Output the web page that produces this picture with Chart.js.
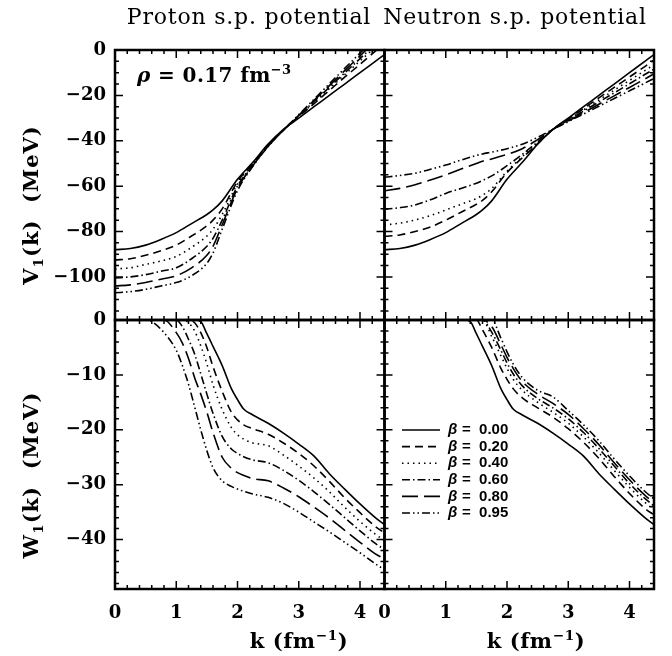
<!DOCTYPE html>
<html>
<head>
<meta charset="utf-8">
<script src="https://cdn.jsdelivr.net/npm/chart.js@4.4.1/dist/chart.umd.min.js"></script>
<style>
    body { margin: 0; background: #fff; }
    #wrap { position: relative; width: 672px; height: 656px; overflow: hidden; font-family: "DejaVu Serif", serif; color: #000; }
    #wrap canvas { position: absolute; left: 0; top: 0; }
    .lbl { position: absolute; white-space: nowrap; line-height: 1; }
    .lbl sub, .lbl sup { font-size: 65%; line-height: 0; }
</style>
</head>
<body>
<div id="wrap">
    <canvas id="pV" width="672" height="656"></canvas>
    <canvas id="nV" width="672" height="656"></canvas>
    <canvas id="pW" width="672" height="656"></canvas>
    <canvas id="nW" width="672" height="656"></canvas>

    <div class="lbl" style="left:249px;top:6px;font-size:22px;letter-spacing:0.8px;transform:translateX(-50%);">Proton s.p. potential</div>
    <div class="lbl" style="left:515px;top:6px;font-size:22px;letter-spacing:0.8px;transform:translateX(-50%);">Neutron s.p. potential</div>
    <div class="lbl" style="left:137px;top:65px;font-size:20px;font-weight:bold;letter-spacing:0.4px;"><i>&rho;</i> = 0.17 fm<sup>&minus;3</sup></div>
    <div class="lbl" style="left:30px;top:205px;font-size:21px;font-weight:bold;letter-spacing:1px;transform:translate(-50%,-50%) rotate(-90deg);">V<sub>1</sub>(k)&nbsp;&nbsp;(MeV)</div>
    <div class="lbl" style="left:30px;top:475px;font-size:21px;font-weight:bold;letter-spacing:1px;transform:translate(-50%,-50%) rotate(-90deg);">W<sub>1</sub>(k)&nbsp;&nbsp;(MeV)</div>
    <div class="lbl" style="left:299px;top:640px;font-size:21px;font-weight:bold;letter-spacing:0.6px;transform:translate(-50%,-50%);">k (fm<sup>&minus;1</sup>)</div>
    <div class="lbl" style="left:536px;top:640px;font-size:21px;font-weight:bold;letter-spacing:0.6px;transform:translate(-50%,-50%);">k (fm<sup>&minus;1</sup>)</div>
</div>
<script>
// asymmetry parameter of each curve
const betas = ["0.00", "0.20", "0.40", "0.60", "0.80", "0.95"];

// momentum grid for the real part V1(k)
const kV = [0, 0.25, 0.5, 0.75, 1, 1.25, 1.5, 1.6, 1.75, 2, 2.25, 2.5, 2.75, 3, 3.25, 3.5, 3.75, 4, 4.25, 4.4];

// proton V1(k), MeV
const protonV00 = [-88, -87.5, -86, -83.5, -80.5, -76.5, -72.5, -70.5, -66.5, -57, -49.5, -41.5, -35, -30, -25, -20, -15, -10, -5, -2];
const protonV20 = [-92.5, -92, -90.5, -88.5, -86, -82, -77.5, -75, -70, -58, -50, -41.8, -35.3, -29.4, -23.6, -17.8, -12, -6.3, -0.5, 3];
const protonV40 = [-96.5, -96, -94.5, -93, -91, -87, -82, -79, -72.5, -59, -50.3, -42, -35.3, -29.1, -23.1, -17, -10.9, -4.8, 1.2, 4.9];
const protonV60 = [-100.5, -100, -99, -97.5, -96, -92, -86.5, -83, -75, -60, -50.6, -42.2, -35.3, -29, -22.7, -16.4, -10.1, -3.8, 2.5, 6.3];
const protonV80 = [-104, -103.5, -102.5, -101, -99.5, -96, -90.5, -86.5, -77, -61, -51, -42.4, -35.3, -28.8, -22.2, -15.7, -9.1, -2.6, 4, 7.9];
const protonV95 = [-107, -106.5, -105.5, -104, -102.5, -99.5, -94, -89.5, -79, -62, -51.3, -42.6, -35.3, -28.5, -21.7, -14.9, -8.1, -1.4, 5.4, 9.5];

// neutron V1(k), MeV
const neutronV00 = [-88, -87.5, -86, -83.5, -80.5, -76.5, -72.5, -70.5, -66.5, -57, -49.5, -41.5, -35, -30, -25, -20, -15, -10, -5, -2];
const neutronV20 = [-82.2, -81.5, -80, -78, -75, -71.5, -68, -66.3, -62.5, -54, -47.5, -41.3, -35, -30.4, -25.8, -21.1, -16.5, -11.9, -7.3, -4.5];
const neutronV40 = [-77.1, -76.3, -74.9, -73, -70.5, -68, -65.5, -64, -61, -53.5, -47, -41, -35, -30.7, -26.4, -22, -17.7, -13.4, -9.1, -6.5];
const neutronV60 = [-70.2, -69.5, -68.3, -66, -63.2, -61, -58.7, -57.5, -55.5, -51, -46, -40.5, -35, -31, -26.9, -22.9, -18.9, -14.9, -10.8, -8.5];
const neutronV80 = [-62, -61, -59.4, -57.3, -55, -52.5, -50, -49, -48, -46, -43.5, -39.5, -35, -31.3, -27.6, -23.9, -20.2, -16.5, -12.8, -10.5];
const neutronV95 = [-56.1, -55.3, -54.3, -52.6, -50.7, -48.5, -46.5, -45.8, -45, -43.5, -41.5, -38.5, -35, -31.6, -28.2, -24.8, -21.4, -18, -14.6, -12.5];

// momentum grid for the imaginary part W1(k)
const kW = [0, 0.5, 0.6, 0.8, 1, 1.1, 1.2, 1.3, 1.4, 1.5, 1.6, 1.75, 1.9, 2, 2.1, 2.25, 2.5, 2.75, 3, 3.25, 3.5, 3.75, 4, 4.25, 4.4];

// proton W1(k), MeV
const protonW00 = [0, 0, 0, 0, 0, 0, 0, 0, -0.3, -2.5, -4.8, -8.3, -12.5, -14.5, -16.2, -17.3, -18.8, -20.6, -22.6, -24.8, -28, -30.8, -33.5, -36, -37.3];
const protonW20 = [0, 0, 0, 0, 0, 0, 0, -0.5, -2.3, -5, -8.5, -13, -16.8, -18.2, -19.1, -19.8, -20.8, -22.4, -24.3, -26.6, -29.4, -32.4, -35.1, -37.6, -38.8];
const protonW40 = [0, 0, 0, 0, 0, 0, -0.5, -2, -4.7, -8, -11.8, -16.3, -19.6, -20.9, -21.7, -22.4, -22.9, -24.6, -26.6, -28.8, -31.3, -34.1, -36.7, -39, -40.2];
const protonW60 = [0, 0, 0, 0, 0, -1.2, -3.5, -6.2, -9.8, -13.5, -17, -21.2, -23.5, -24.3, -24.9, -25.5, -26, -27.4, -29.2, -31.3, -33.6, -36, -38.4, -40.7, -41.8];
const protonW80 = [0, 0, 0, 0, -2.3, -4.2, -7, -10.5, -13.5, -16.8, -20.5, -25, -27, -27.8, -28.3, -28.9, -29.3, -30.6, -32.2, -34.1, -36.1, -38.3, -40.5, -42.6, -43.5];
const protonW95 = [0, 0, -0.3, -2.3, -5.5, -8.3, -11.7, -15.8, -20, -23.8, -26.9, -29.3, -30.3, -30.8, -31.2, -31.7, -32.3, -33.4, -35, -36.8, -38.6, -40.5, -42.4, -44.4, -45.5];

// neutron W1(k), MeV
const neutronW00 = [0, 0, 0, 0, 0, 0, 0, 0, -0.3, -2.5, -4.8, -8.3, -12.5, -14.5, -16.2, -17.3, -18.8, -20.6, -22.6, -24.8, -28, -30.8, -33.5, -36, -37.3];
const neutronW20 = [0, 0, 0, 0, 0, 0, 0, 0, 0, 0, -1.8, -5, -8.8, -10.8, -12.5, -14.2, -16, -17.7, -19.8, -22.3, -25.2, -28.5, -31.6, -34.3, -35.5];
const neutronW40 = [0, 0, 0, 0, 0, 0, 0, 0, 0, 0, 0, -3, -6.5, -8.8, -10.8, -12.8, -15, -16.8, -18.8, -21.3, -24.2, -27.4, -30.5, -33.2, -34.6];
const neutronW60 = [0, 0, 0, 0, 0, 0, 0, 0, 0, 0, 0, -2.2, -5.5, -7.8, -9.8, -12, -14.3, -16, -18, -20.5, -23.4, -26.6, -29.8, -32.5, -33.9];
const neutronW80 = [0, 0, 0, 0, 0, 0, 0, 0, 0, 0, 0, -1.2, -4.5, -6.8, -8.8, -11.2, -13.5, -15.2, -17.2, -19.8, -22.7, -26, -29.1, -31.9, -33.3];
const neutronW95 = [0, 0, 0, 0, 0, 0, 0, 0, 0, 0, 0, 0, -3.3, -5.8, -8, -10.5, -12.8, -14, -16.5, -19.1, -22, -25.3, -28.4, -31.2, -32.6];

// line patterns, one per beta
const dashes = [[], [8, 5], [1.5, 4], [8, 3, 1.5, 3], [16, 6], [8, 3, 1.5, 3, 1.5, 3]];

function minusSign(v) {
    return v < 0 ? "\u2212" + Math.abs(v) : String(v);
}

function makeDatasets(ks, list) {
    return list.map(function (ys, i) {
        return {
            label: "\u03b2 = " + betas[i],
            data: ks.map(function (k, j) { return { x: k, y: ys[j] }; }),
            borderColor: "#000",
            borderWidth: 1.6,
            borderDash: dashes[i],
            pointRadius: 0,
            fill: false,
            cubicInterpolationMode: "monotone",
        };
    });
}

// box and inward tick marks on all four sides
const framePlugin = {
    id: "frame",
    afterDatasetsDraw(chart, args, opts) {
        const ctx = chart.ctx;
        const a = chart.chartArea;
        const x = chart.scales.x;
        const y = chart.scales.y;
        ctx.save();
        ctx.strokeStyle = "#000";
        ctx.lineWidth = 1.5;
        ctx.beginPath();
        for (let i = 0; i * 0.2 <= x.max + 1e-9; i++) {
            const px = x.getPixelForValue(i * 0.2);
            const len = i % 5 === 0 ? 8 : 4;
            ctx.moveTo(px, a.bottom);
            ctx.lineTo(px, a.bottom - len);
            ctx.moveTo(px, a.top);
            ctx.lineTo(px, a.top + len);
        }
        for (let i = 0; -i * opts.minor >= y.min - 1e-9; i++) {
            const py = y.getPixelForValue(-i * opts.minor);
            const len = i % opts.per === 0 ? 8 : 4;
            ctx.moveTo(a.left, py);
            ctx.lineTo(a.left + len, py);
            ctx.moveTo(a.right, py);
            ctx.lineTo(a.right - len, py);
        }
        ctx.stroke();
        ctx.lineWidth = 2.5;
        ctx.strokeRect(a.left, a.top, a.right - a.left, a.bottom - a.top);
        ctx.restore();
    },
};

// legend with line samples inside the lower right panel
const betaLegend = {
    id: "betaLegend",
    afterDraw(chart, args, opts) {
        if (!opts.show) return;
        const ctx = chart.ctx;
        ctx.save();
        ctx.strokeStyle = "#000";
        ctx.fillStyle = "#000";
        ctx.textBaseline = "middle";
        chart.data.datasets.forEach(function (ds, i) {
            const yy = opts.top + i * opts.step;
            ctx.lineWidth = 1.6;
            ctx.setLineDash(ds.borderDash);
            ctx.beginPath();
            ctx.moveTo(opts.left, yy);
            ctx.lineTo(opts.left + 38, yy);
            ctx.stroke();
            ctx.setLineDash([]);
            ctx.font = "italic bold 15px 'Liberation Sans'";
            ctx.fillText("\u03b2", opts.left + 46, yy);
            ctx.font = "bold 15px 'Liberation Sans'";
            ctx.fillText("=  " + betas[i], opts.left + 60, yy);
        });
        ctx.restore();
    },
};

function makePanel(id, ks, list, cfg) {
    const tickFont = { family: "DejaVu Serif", size: 18, weight: "bold" };
    return new Chart(document.getElementById(id), {
        type: "line",
        data: { datasets: makeDatasets(ks, list) },
        options: {
            responsive: false,
            animation: false,
            events: [],
            layout: { padding: cfg.padding },
            plugins: {
                legend: { display: false },
                tooltip: { enabled: false },
                frame: { minor: cfg.minor, per: cfg.per },
                betaLegend: { show: !!cfg.legend, left: 402, top: 430, step: 16.6 },
            },
            scales: {
                x: {
                    type: "linear",
                    min: 0,
                    max: 4.4,
                    display: cfg.showX,
                    grid: { display: false, drawTicks: false },
                    border: { display: false },
                    ticks: { stepSize: 1, includeBounds: false, padding: 14, color: "#000", font: tickFont, maxRotation: 0 },
                    afterFit: function (s) { if (cfg.showX) s.height = 45; },
                },
                y: {
                    type: "linear",
                    min: cfg.yMin,
                    max: 0,
                    display: cfg.showY,
                    grid: { display: false, drawTicks: false },
                    border: { display: false },
                    ticks: { stepSize: cfg.major, includeBounds: false, padding: 9, color: "#000", font: tickFont, callback: minusSign },
                    afterFit: function (s) { if (cfg.showY) s.width = 60; },
                },
            },
        },
        plugins: [framePlugin, betaLegend],
    });
}

makePanel("pV", kV, [protonV00, protonV20, protonV40, protonV60, protonV80, protonV95], {
    padding: { left: 55, right: 287.5, top: 50, bottom: 336 },
    showX: false, showY: true, yMin: -119, major: 20, minor: 5, per: 4,
});
makePanel("nV", kV, [neutronV00, neutronV20, neutronV40, neutronV60, neutronV80, neutronV95], {
    padding: { left: 384.5, right: 18, top: 50, bottom: 336 },
    showX: false, showY: false, yMin: -119, major: 20, minor: 5, per: 4,
});
makePanel("pW", kW, [protonW00, protonW20, protonW40, protonW60, protonW80, protonW95], {
    padding: { left: 55, right: 287.5, top: 320, bottom: 22 },
    showX: true, showY: true, yMin: -49, major: 10, minor: 2, per: 5,
});
makePanel("nW", kW, [neutronW00, neutronW20, neutronW40, neutronW60, neutronW80, neutronW95], {
    padding: { left: 384.5, right: 18, top: 320, bottom: 22 },
    showX: true, showY: false, yMin: -49, major: 10, minor: 2, per: 5, legend: true,
});
</script>
</body>
</html>
